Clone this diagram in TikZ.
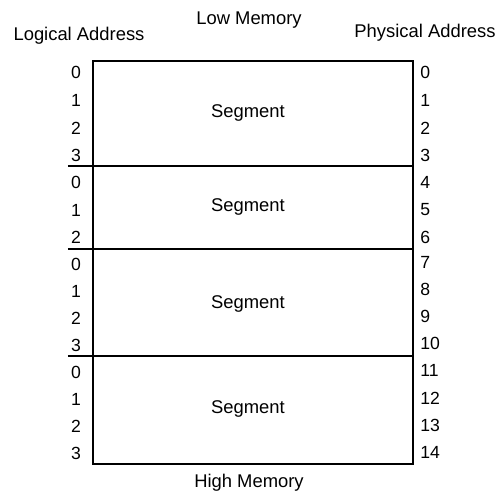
\documentclass[tikz,border=0pt]{standalone}
\usepackage{fontspec}
\setmainfont{Liberation Sans}
\begin{document}
\begin{tikzpicture}[x=0.5pt,y=-0.5pt,
  lbl/.style={inner sep=0pt,font=\fontsize{9.2pt}{10pt}\selectfont},
  num/.style={inner sep=0pt,font=\fontsize{8.8pt}{10pt}\selectfont},
  box/.style={line width=1.4pt},
  segtext/.style={inner sep=0pt,font=\fontsize{9.2pt}{10pt}\selectfont}]
\useasboundingbox (0,0) rectangle (500,493);
% titles
\node[lbl] (low) at (249,20) {Low Memory};
\node[lbl] (logical) at (79,36) {Logical Address};
\node[lbl] (physical) at (425,33) {Physical Address};
\node[lbl] (high) at (249,483) {High Memory};
% memory box
\draw[box] (93,61) rectangle (413,464);
\draw[box] (68,166) -- (413,166);
\draw[box] (68,249) -- (413,249);
\draw[box] (68,356) -- (413,356);
% segment labels
\node[segtext] (seg1) at (248,113) {Segment};
\node[segtext] (seg2) at (248,207) {Segment};
\node[segtext] (seg3) at (248,304) {Segment};
\node[segtext] (seg4) at (248,409) {Segment};
% logical addresses
\foreach \v/\y [count=\i] in {0/72,1/100,2/128,3/155,0/182,1/210,2/237,0/264,1/291,2/318,3/345,0/372,1/399,2/426,3/453}
  \node[num] (l\i) at (76,\y) {\v};
% physical addresses
\foreach \v/\y in {0/72,1/100,2/128,3/155,4/182,5/210,6/237,7/262,8/289,9/316,10/343,11/370,12/398,13/425,14/452}
  \node[num,anchor=west] (p\v) at (420,\y) {\v};
\end{tikzpicture}
\end{document}
